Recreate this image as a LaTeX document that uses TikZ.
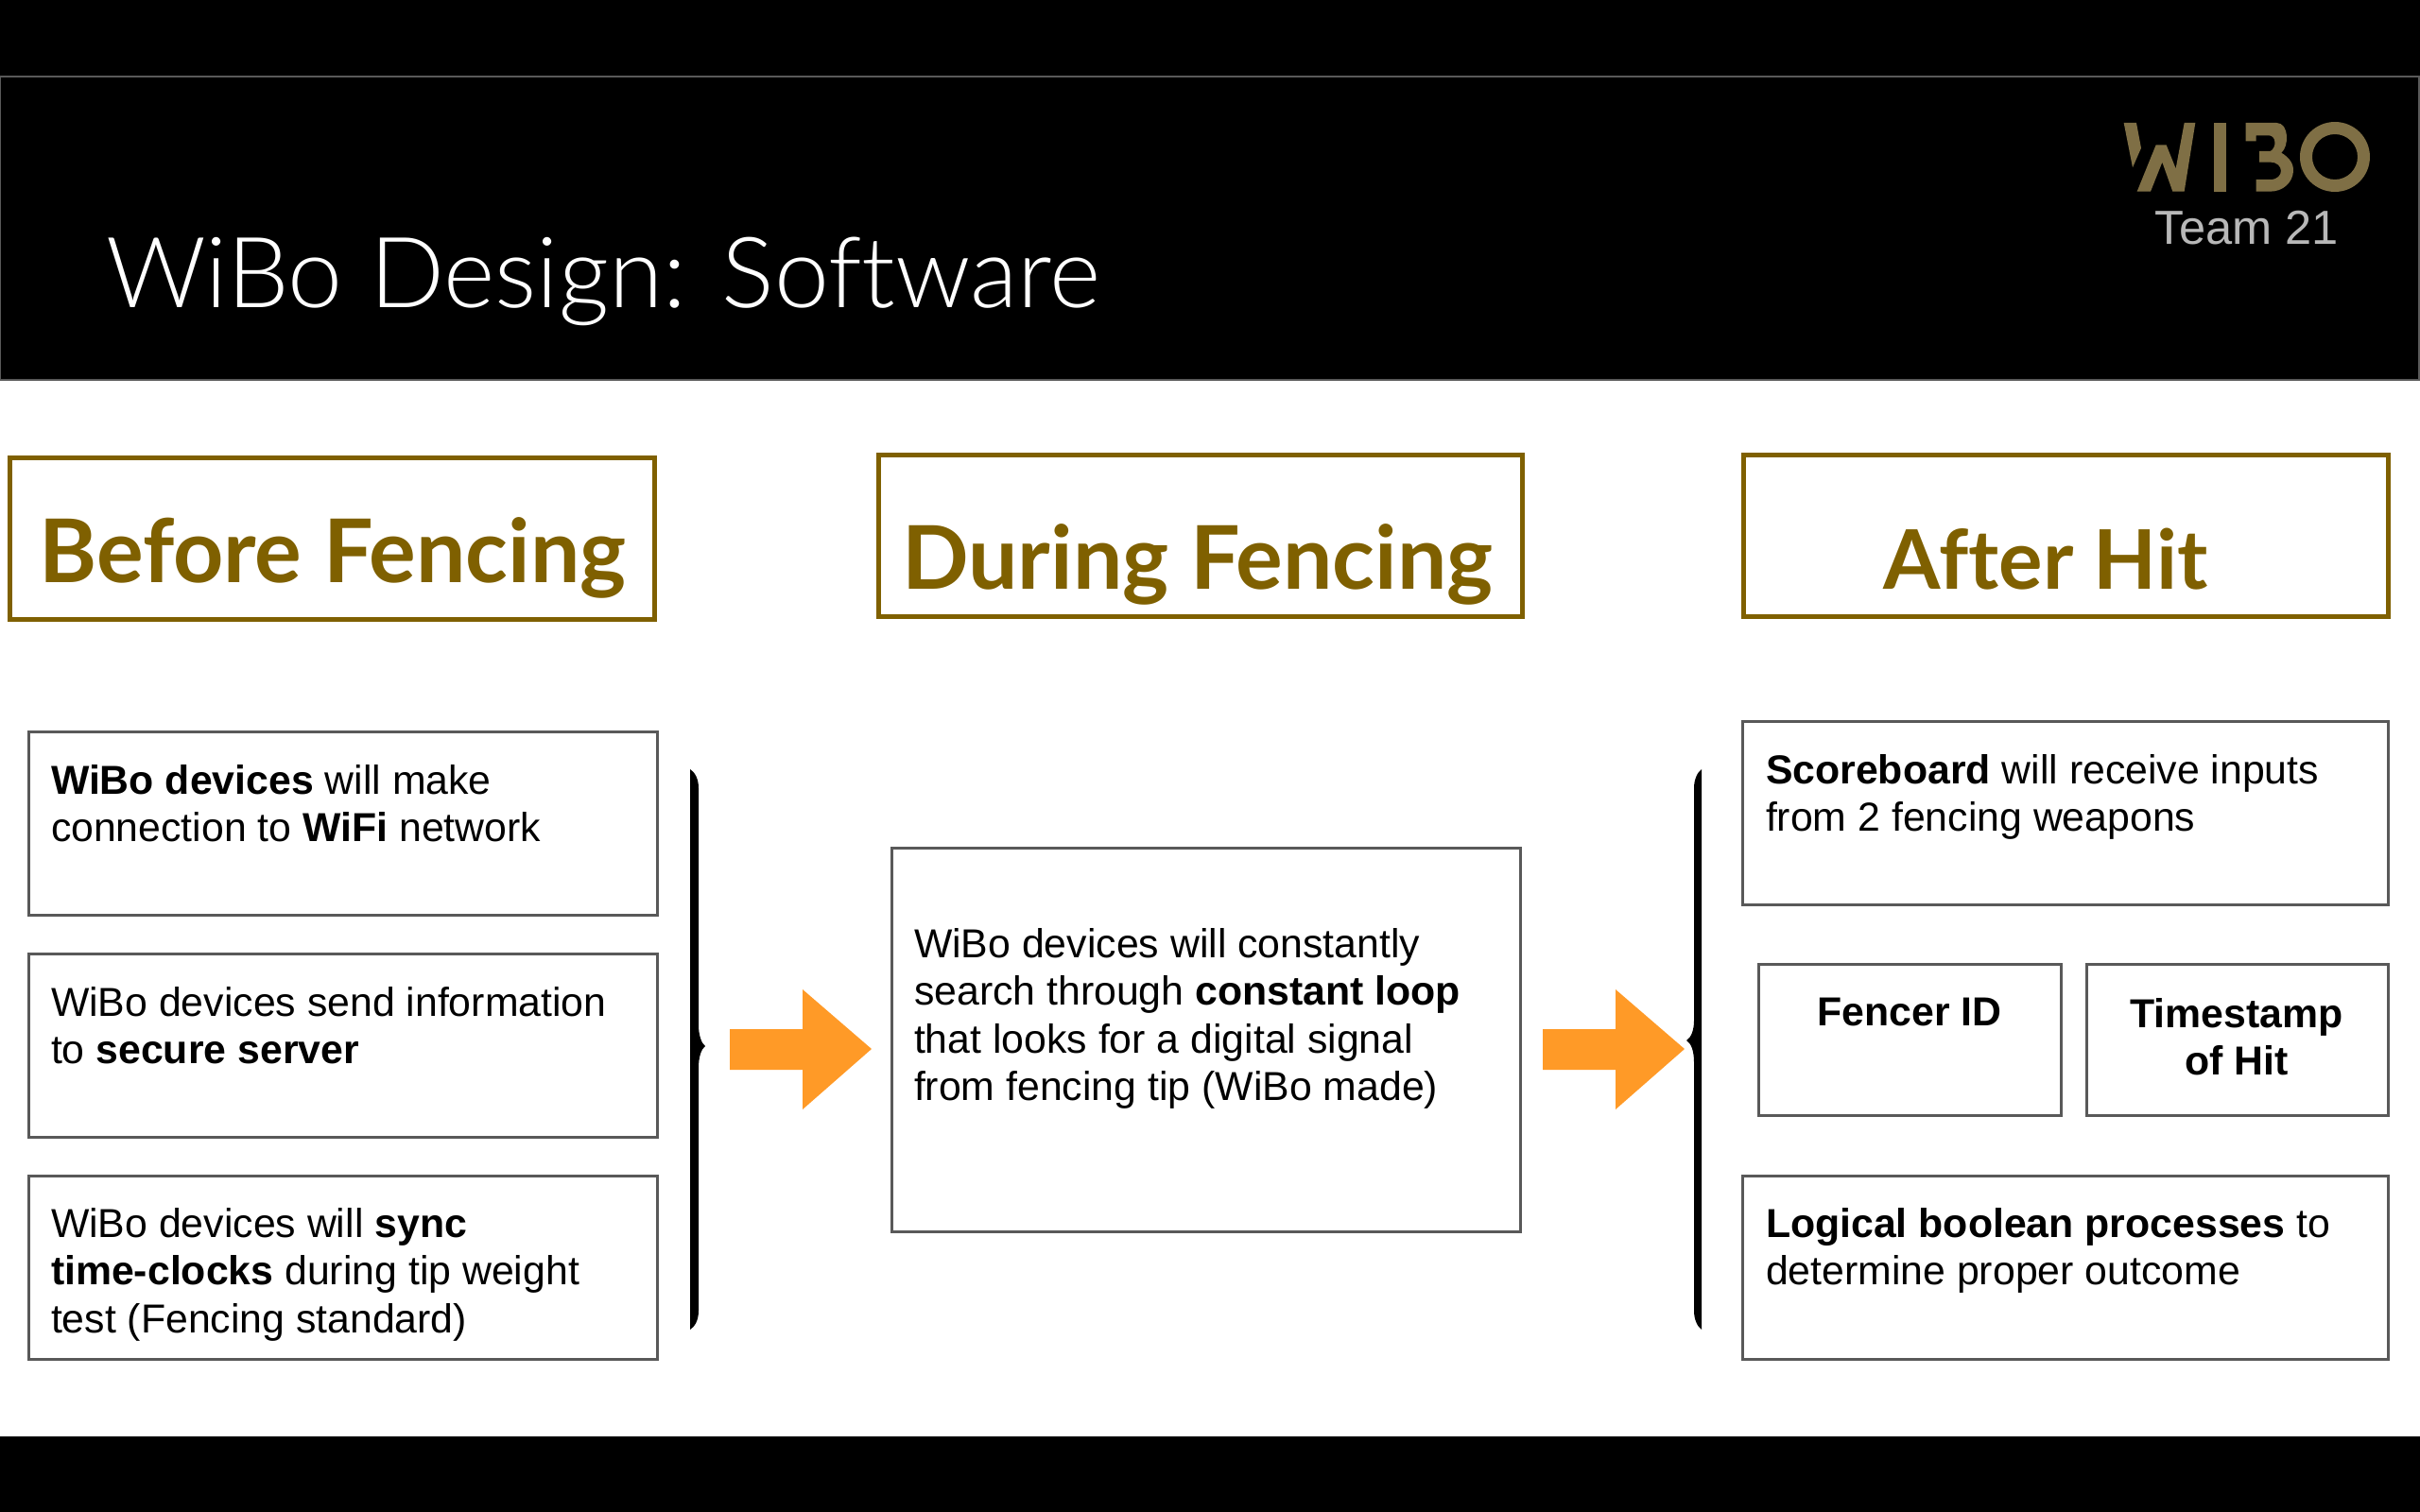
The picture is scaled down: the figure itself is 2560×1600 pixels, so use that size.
\documentclass[tikz,border=0pt]{standalone}
\usepackage{fontspec}
\setmainfont{Liberation Sans}
\newfontfamily\ttlfont[Ligatures=NoCommon]{Lato Light}
\newfontfamily\headfont[Ligatures=NoCommon]{Lato Bold}
\definecolor{gold}{HTML}{7F6000}
\definecolor{logo}{HTML}{7F6F45}
\definecolor{edge}{HTML}{595959}
\definecolor{orng}{HTML}{FF9A27}
\tikzset{
  every node/.style={inner sep=0pt,outer sep=0pt},
  headbox/.style={draw=gold,line width=5pt,rectangle,fill=white},
  textbox/.style={draw=edge,line width=3pt,rectangle,fill=white},
  bodytext/.style={anchor=north west,align=left,font=\fontsize{42.8}{50.5}\selectfont,text=black},
  headtext/.style={anchor=base,font=\headfont\fontsize{93}{105}\selectfont,text=gold},
  bigarrow/.style={fill=orng,draw=none},
  bracefill/.style={fill=black,draw=none},
}
\newcommand{\bx}[6]{\node[#1,minimum width=#5-#3,minimum height=#6-#4,anchor=north west] (#2) at (#3,#4) {};}
\begin{document}
\begin{tikzpicture}[x=1pt,y=-1pt]
\useasboundingbox (0,0) rectangle (2560,1600);
\fill[white] (0,0) rectangle (2560,1600);
\fill[black] (0,0) rectangle (2560,80);
\fill[black] (0,1520) rectangle (2560,1600);
\draw[fill=black,draw=edge,line width=2pt] (0,81) rectangle (2559,402);
\node[anchor=base west,text=white,font=\ttlfont\fontsize{104}{114}\selectfont] (title) at (112,325) {WiBo Design: Software};
% logo
\begin{scope}[shift={(2150,60)},x=0.3333pt,y=-0.3333pt]
\fill[logo] (290,210) -- (330,210) -- (345,290) -- (318,352) -- cycle;
\fill[logo] (332,428) -- (392,280) -- (425,280) -- (455,355) -- (482,210) -- (517,210) -- (482,428) -- (445,428) -- (412,335) -- (375,428) -- cycle;
\fill[logo] (575,210) rectangle (615,428);
\fill[logo] (677,210) -- (775,210) .. controls (815,210) and (815,285) .. (790,305) .. controls (815,320) and (830,340) .. (828,365) .. controls (825,400) and (795,428) .. (755,428) -- (710,428) -- (710,390) -- (755,390) .. controls (800,390) and (800,335) .. (755,335) -- (720,335) -- (720,300) -- (755,300) .. controls (775,290) and (775,250) .. (750,250) -- (710,250) -- (710,268) -- (677,268) -- cycle;
\fill[logo,even odd rule] (960,318) circle (111) (960,318) circle (72);
\end{scope}
\node[anchor=base,text=white!72!black,font=\fontsize{50.6}{58}\selectfont] (team) at (2377,258) {Team 21};
% headers
\bx{headbox}{hb}{10}{484}{692}{655}
\bx{headbox}{hd}{929}{481}{1610}{652}
\bx{headbox}{ha}{1844}{481}{2526}{652}
\node[headtext] (hbt) at (352,616) {Before Fencing};
\node[headtext] (hdt) at (1267,623) {During Fencing};
\node[headtext,font=\headfont\fontsize{87}{100}\selectfont] (hat) at (2164,623) {After Hit};
% boxes
\bx{textbox}{l1}{30}{774}{695}{968}
\bx{textbox}{l2}{30}{1009}{695}{1203}
\bx{textbox}{l3}{30}{1244}{695}{1438}
\bx{textbox}{m}{943}{897}{1608}{1303}
\bx{textbox}{r1}{1843}{763}{2526}{957}
\bx{textbox}{r2}{1860}{1020}{2180}{1180}
\bx{textbox}{r3}{2207}{1020}{2526}{1180}
\bx{textbox}{r4}{1843}{1244}{2526}{1438}
\node[bodytext] (t1) at (54,809) {\textbf{WiBo devices} will make\\connection to \textbf{WiFi} network};
\node[bodytext] (t2) at (54,1044) {WiBo devices send information\\to \textbf{secure server}};
\node[bodytext] (t3) at (54,1278) {WiBo devices will \textbf{sync}\\\textbf{time-clocks} during tip weight\\test (Fencing standard)};
\node[bodytext] (t4) at (967,982) {WiBo devices will constantly\\search through \textbf{constant loop}\\that looks for a digital signal\\from fencing tip (WiBo made)};
\node[bodytext] (t5) at (1868,798) {\textbf{Scoreboard} will receive inputs\\from 2 fencing weapons};
\node[bodytext] (t6) at (1868,1278) {\textbf{Logical boolean processes} to\\determine proper outcome};
\node[bodytext,anchor=north,align=center] (t7) at (2020,1056) {\textbf{Fencer ID}};
\node[bodytext,anchor=north,align=center] (t8) at (2366,1056) {\textbf{Timestamp}\\\textbf{of Hit}};
% braces
\fill[bracefill] (730,814) .. controls (735,817) and (739,824) .. (739,834) -- (739,1085) .. controls (739,1095) and (742,1104) .. (746,1107) .. controls (742,1110) and (739,1118) .. (739,1130) -- (739,1387) .. controls (739,1397) and (735,1404) .. (730,1407) -- cycle;
\fill[bracefill] (1800,814) .. controls (1796,817) and (1792,824) .. (1792,834) -- (1792,1080) .. controls (1792,1090) and (1789,1098) .. (1784,1101) .. controls (1789,1104) and (1792,1112) .. (1792,1124) -- (1792,1387) .. controls (1792,1397) and (1796,1404) .. (1800,1407) -- cycle;
% arrows
\fill[bigarrow] (772,1089) -- (849,1089) -- (849,1047) -- (922,1110) -- (849,1174) -- (849,1132) -- (772,1132) -- cycle;
\fill[bigarrow] (1632,1089) -- (1709,1089) -- (1709,1047) -- (1782,1110) -- (1709,1174) -- (1709,1132) -- (1632,1132) -- cycle;
\end{tikzpicture}
\end{document}
